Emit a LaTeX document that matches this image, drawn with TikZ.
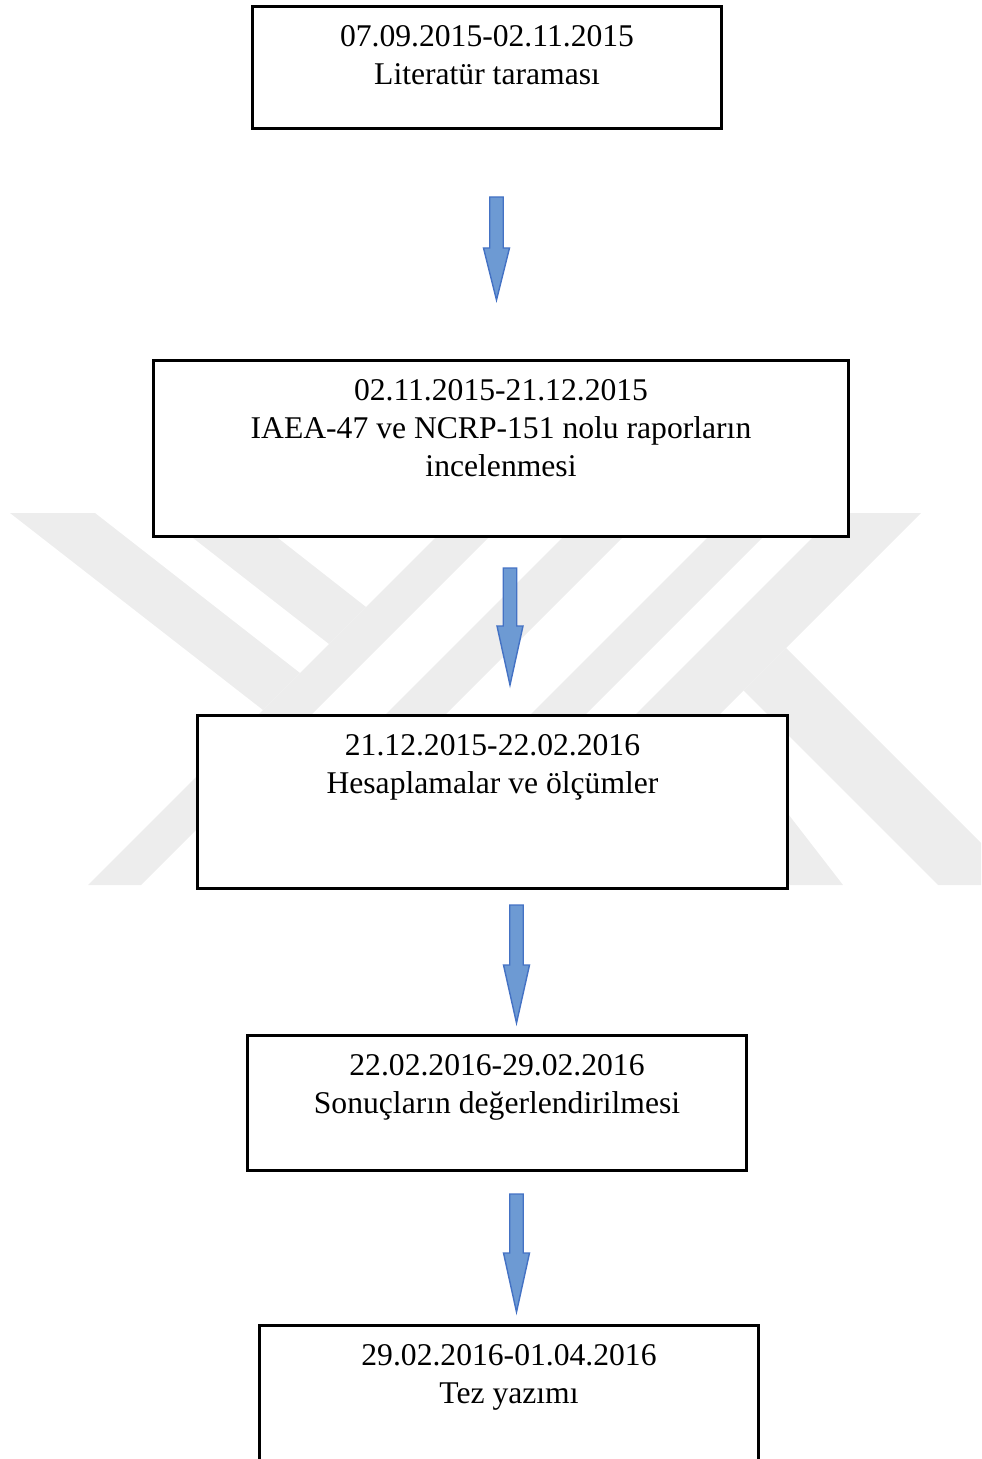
\documentclass[tikz,border=0pt]{standalone}
\usepackage{fontspec}
\setmainfont{Liberation Serif}
\usepackage{tikz}
\usetikzlibrary{calc,positioning}
\definecolor{arrowfill}{HTML}{6D9AD3}
\definecolor{arrowline}{HTML}{4472C4}
\definecolor{logogray}{HTML}{EDEDED}
\tikzset{
  StageBox/.style={
    draw=black, line width=1.7pt,
    fill=white, inner sep=0pt
  },
  StageText/.style={
    align=center, inner sep=0pt, anchor=north,
    font=\fontsize{18pt}{21.6pt}\selectfont
  },
  BlockArrow/.style={
    draw=arrowline, fill=arrowfill,
    line width=0.8pt, line join=miter
  },
  LogoBand/.style={fill=logogray, draw=none}
}
\newcommand{\DownArrow}[3]{%
  % #1 = tail, #2 = tip, #3 = head length
  \draw[BlockArrow]
    ($(#1)+(-6.75,0)$) -- ($(#1)+(6.75,0)$) -- ($(#2)+(6.75,-#3)$)
    -- ($(#2)+(13,-#3)$) -- (#2) -- ($(#2)+(-13,-#3)$)
    -- ($(#2)+(-6.75,-#3)$) -- cycle;
}

\begin{document}
\begin{tikzpicture}[x=0.02cm, y=-0.02cm]
  \useasboundingbox (0,0) rectangle (981,1459);
  \clip (0,0) rectangle (981,1459);

  % Background logo, cut to its own strip
  \begin{scope}
    \clip (0,513) rectangle (981,885);
    % rising stripes
    \fill[LogoBand] (88,885) -- (141,885) -- (513,513) -- (460,513) -- cycle;
    \fill[LogoBand] (215,885) -- (275,885) -- (647,513) -- (587,513) -- cycle;
    \fill[LogoBand] (360,885) -- (415,885) -- (787,513) -- (732,513) -- cycle;
    \fill[LogoBand] (465,885) -- (549,885) -- (921,513) -- (837,513) -- cycle;
    % falling stripes on the left
    \fill[LogoBand] (10,513) -- (95,513) -- (300,673) -- (263,710) -- cycle;
    \fill[LogoBand] (161,513) -- (246,513) -- (366,607) -- (329,644) -- cycle;
    % falling stripes on the right
    \fill[LogoBand] (743.5,690.5) -- (786,648) -- (1023,885) -- (938,885) -- cycle;
    \fill[LogoBand] (660,720) -- (700,700) -- (843,885) -- (790,885) -- cycle;
  \end{scope}

  % Stage boxes
  \node[StageBox, minimum width=9.38cm, minimum height=2.44cm] (b1) at (487,67.5) {};
  \node[StageBox, minimum width=13.9cm, minimum height=3.52cm] (b2) at (501,448.5) {};
  \node[StageBox, minimum width=11.8cm, minimum height=3.46cm] (b3) at (492.5,802) {};
  \node[StageBox, minimum width=9.98cm, minimum height=2.7cm] (b4) at (497,1103) {};
  \node[StageBox, minimum width=9.98cm, minimum height=2.9cm] (b5) at (509,1398) {};

  \node[StageText] (t1) at ($(b1.north)+(0,20)$) {07.09.2015-02.11.2015\\Literatür taraması};
  \node[StageText] (t2) at ($(b2.north)+(0,20)$) {02.11.2015-21.12.2015\\IAEA-47 ve NCRP-151 nolu raporların\\incelenmesi};
  \node[StageText] (t3) at ($(b3.north)+(0,20)$) {21.12.2015-22.02.2016\\Hesaplamalar ve ölçümler};
  \node[StageText] (t4) at ($(b4.north)+(0,20)$) {22.02.2016-29.02.2016\\Sonuçların değerlendirilmesi};
  \node[StageText] (t5) at ($(b5.north)+(0,20)$) {29.02.2016-01.04.2016\\Tez yazımı};

  % Arrows between stages
  \coordinate (a1s) at (496.5,197);
  \coordinate (a1e) at (496.5,300);
  \coordinate (a2s) at (510,568);
  \coordinate (a2e) at (510,685);
  \coordinate (a3s) at (516.5,905);
  \coordinate (a3e) at (516.5,1023);
  \coordinate (a4s) at (516.5,1194);
  \coordinate (a4e) at (516.5,1312);
  \DownArrow{a1s}{a1e}{52}
  \DownArrow{a2s}{a2e}{59}
  \DownArrow{a3s}{a3e}{58}
  \DownArrow{a4s}{a4e}{59}
\end{tikzpicture}
\end{document}
